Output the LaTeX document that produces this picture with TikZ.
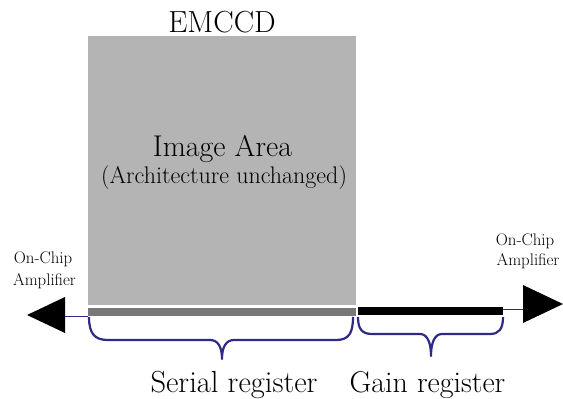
\documentclass[tikz,border=0pt]{standalone}
\definecolor{areagray}{HTML}{B4B4B4}
\definecolor{bargray}{HTML}{787878}
\definecolor{bracecol}{HTML}{2E2A85}
\begin{document}
\begin{tikzpicture}[x=1pt,y=-1pt,
  lbl/.style={inner sep=0pt,anchor=base},
  brc/.style={draw=bracecol,line width=2.2pt,line join=round},
  lead/.style={draw=bracecol,line width=1pt},
  amp/.style={fill=black}]
\useasboundingbox (0,0) rectangle (563,399);
% image area
\node[fill=areagray,minimum width=268pt,minimum height=269pt,inner sep=0pt,anchor=north west] (area) at (88,36) {};
\node[lbl,font=\fontsize{30.5}{30}\selectfont] (emccd) at (222,32) {EMCCD};
\node[lbl,font=\fontsize{30}{30}\selectfont] (ia) at (222.5,156) {Image Area};
\node[lbl,font=\fontsize{24}{24}\selectfont] (arch) at (224,183) {(Architecture unchanged)};
% registers
\node[fill=bargray,minimum width=268pt,minimum height=8pt,inner sep=0pt,anchor=north west] (serial) at (88,308) {};
\node[fill=black,minimum width=145pt,minimum height=8pt,inner sep=0pt,anchor=north west] (gain) at (358,307) {};
% amplifiers
\coordinate (ltip) at (27,315);
\coordinate (rtip) at (563,304);
\fill[amp] (ltip) -- (65,297) -- (65,333) -- cycle;
\fill[amp] (rtip) -- (523,285) -- (523,323) -- cycle;
\coordinate (lbase) at (65,316);
\coordinate (rbase) at (523,309);
\draw[lead] (lbase) -- (serial.west |- lbase);
\draw[lead] (gain.east |- rbase) -- (rbase);
% amplifier labels
\node[lbl,font=\fontsize{16.8}{16}\selectfont] (lamp1) at (43,263) {On-Chip};
\node[lbl,font=\fontsize{16.8}{16}\selectfont] (lamp2) at (44.5,285) {Amplifier};
\node[lbl,font=\fontsize{16.8}{16}\selectfont] (ramp1) at (525,245) {On-Chip};
\node[lbl,font=\fontsize{16.8}{16}\selectfont] (ramp2) at (528,265) {Amplifier};
% braces
\draw[brc] (89,317) .. controls (89,334) and (95,340) .. (108,340) -- (210,340)
  .. controls (218,340) and (222,347) .. (222,359)
  .. controls (222,347) and (226,340) .. (234,340) -- (336,340)
  .. controls (349,340) and (353,333) .. (353,317);
\draw[brc] (358,317) .. controls (358,329) and (362,334) .. (372,334) -- (420,334)
  .. controls (427,334) and (431,342) .. (431,356)
  .. controls (431,342) and (435,334) .. (442,334) -- (490,334)
  .. controls (499,334) and (503,329) .. (503,317);
\node[lbl,font=\fontsize{30.5}{30}\selectfont] (sr) at (234,392) {Serial register};
\node[lbl,font=\fontsize{30}{30}\selectfont] (gr) at (427.5,392) {Gain register};
\end{tikzpicture}
\end{document}
